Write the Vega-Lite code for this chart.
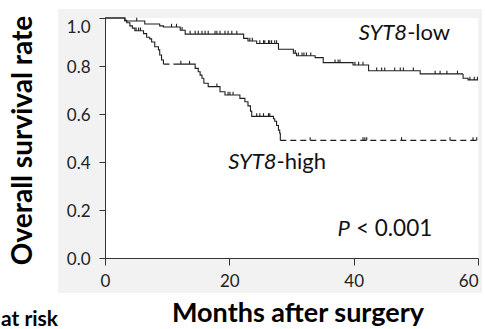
{
  "$schema": "https://vega.github.io/schema/vega-lite/v6.json",
  "width": 373,
  "height": 240,
  "autosize": {"type": "none"},
  "padding": {"left": 105, "top": 18, "right": 7, "bottom": 71},
  "background": "#ffffff",
  "config": {"view": {"stroke": null}},
  "datasets": {
    "km": [
      {"seg": "low", "trace": "observed", "month": 0, "surv": 1.0},
      {"seg": "low", "trace": "observed", "month": 3.2, "surv": 0.9875},
      {"seg": "low", "trace": "observed", "month": 6.4, "surv": 0.975},
      {"seg": "low", "trace": "observed", "month": 8.8, "surv": 0.967},
      {"seg": "low", "trace": "observed", "month": 9.4, "surv": 0.9625},
      {"seg": "low", "trace": "observed", "month": 12.1, "surv": 0.949},
      {"seg": "low", "trace": "observed", "month": 12.9, "surv": 0.933},
      {"seg": "low", "trace": "observed", "month": 22.3, "surv": 0.915},
      {"seg": "low", "trace": "observed", "month": 23.0, "surv": 0.904},
      {"seg": "low", "trace": "observed", "month": 24.4, "surv": 0.894},
      {"seg": "low", "trace": "observed", "month": 27.9, "surv": 0.87},
      {"seg": "low", "trace": "observed", "month": 30.3, "surv": 0.853},
      {"seg": "low", "trace": "observed", "month": 30.8, "surv": 0.843},
      {"seg": "low", "trace": "observed", "month": 33.8, "surv": 0.835},
      {"seg": "low", "trace": "observed", "month": 35.1, "surv": 0.814},
      {"seg": "low", "trace": "observed", "month": 39.9, "surv": 0.804},
      {"seg": "low", "trace": "observed", "month": 42.4, "surv": 0.78},
      {"seg": "low", "trace": "observed", "month": 50.7, "surv": 0.767},
      {"seg": "low", "trace": "observed", "month": 57.6, "surv": 0.749},
      {"seg": "low", "trace": "observed", "month": 58.4, "surv": 0.742},
      {"seg": "low", "trace": "observed", "month": 60, "surv": 0.742},
      {"seg": "high1", "trace": "observed", "month": 0, "surv": 1.0},
      {"seg": "high1", "trace": "observed", "month": 3.2, "surv": 0.99},
      {"seg": "high1", "trace": "observed", "month": 3.5, "surv": 0.98},
      {"seg": "high1", "trace": "observed", "month": 4.0, "surv": 0.967},
      {"seg": "high1", "trace": "observed", "month": 4.4, "surv": 0.958},
      {"seg": "high1", "trace": "observed", "month": 4.8, "surv": 0.947},
      {"seg": "high1", "trace": "observed", "month": 6.2, "surv": 0.935},
      {"seg": "high1", "trace": "observed", "month": 6.7, "surv": 0.92},
      {"seg": "high1", "trace": "observed", "month": 7.2, "surv": 0.913},
      {"seg": "high1", "trace": "observed", "month": 7.5, "surv": 0.9},
      {"seg": "high1", "trace": "observed", "month": 8.0, "surv": 0.88},
      {"seg": "high1", "trace": "observed", "month": 8.6, "surv": 0.867},
      {"seg": "high1", "trace": "observed", "month": 8.8, "surv": 0.846},
      {"seg": "high1", "trace": "observed", "month": 9.1, "surv": 0.825},
      {"seg": "high1", "trace": "observed", "month": 9.4, "surv": 0.808},
      {"seg": "high2", "trace": "extended", "month": 9.4, "surv": 0.808},
      {"seg": "high2", "trace": "extended", "month": 11.1, "surv": 0.808},
      {"seg": "high3", "trace": "observed", "month": 11.1, "surv": 0.808},
      {"seg": "high3", "trace": "observed", "month": 14.5, "surv": 0.79},
      {"seg": "high3", "trace": "observed", "month": 15.0, "surv": 0.776},
      {"seg": "high3", "trace": "observed", "month": 15.3, "surv": 0.762},
      {"seg": "high3", "trace": "observed", "month": 15.6, "surv": 0.749},
      {"seg": "high3", "trace": "observed", "month": 15.9, "surv": 0.728},
      {"seg": "high3", "trace": "observed", "month": 16.6, "surv": 0.714},
      {"seg": "high3", "trace": "observed", "month": 18.5, "surv": 0.693},
      {"seg": "high3", "trace": "observed", "month": 19.3, "surv": 0.679},
      {"seg": "high3", "trace": "observed", "month": 21.7, "surv": 0.665},
      {"seg": "high3", "trace": "observed", "month": 22.5, "surv": 0.651},
      {"seg": "high3", "trace": "observed", "month": 23.0, "surv": 0.634},
      {"seg": "high3", "trace": "observed", "month": 23.4, "surv": 0.612},
      {"seg": "high3", "trace": "observed", "month": 23.6, "surv": 0.59},
      {"seg": "high3", "trace": "observed", "month": 27.1, "surv": 0.58},
      {"seg": "high3", "trace": "observed", "month": 27.3, "surv": 0.57},
      {"seg": "high3", "trace": "observed", "month": 27.6, "surv": 0.552},
      {"seg": "high3", "trace": "observed", "month": 27.9, "surv": 0.533},
      {"seg": "high3", "trace": "observed", "month": 28.1, "surv": 0.52},
      {"seg": "high3", "trace": "observed", "month": 28.2, "surv": 0.49},
      {"seg": "high4", "trace": "extended", "month": 28.2, "surv": 0.49},
      {"seg": "high4", "trace": "extended", "month": 60, "surv": 0.49}
    ],
    "censor": [
      {"group": "low", "month": 5.1, "surv": 0.9875},
      {"group": "low", "month": 10.7, "surv": 0.9625},
      {"group": "low", "month": 11.5, "surv": 0.9625},
      {"group": "low", "month": 12.4, "surv": 0.949},
      {"group": "low", "month": 13.7, "surv": 0.933},
      {"group": "low", "month": 14.5, "surv": 0.933},
      {"group": "low", "month": 15.0, "surv": 0.933},
      {"group": "low", "month": 15.6, "surv": 0.933},
      {"group": "low", "month": 16.1, "surv": 0.933},
      {"group": "low", "month": 16.6, "surv": 0.933},
      {"group": "low", "month": 17.7, "surv": 0.933},
      {"group": "low", "month": 18.0, "surv": 0.933},
      {"group": "low", "month": 18.5, "surv": 0.933},
      {"group": "low", "month": 19.3, "surv": 0.933},
      {"group": "low", "month": 19.8, "surv": 0.933},
      {"group": "low", "month": 20.4, "surv": 0.933},
      {"group": "low", "month": 21.2, "surv": 0.933},
      {"group": "low", "month": 23.3, "surv": 0.904},
      {"group": "low", "month": 23.7, "surv": 0.904},
      {"group": "low", "month": 24.9, "surv": 0.894},
      {"group": "low", "month": 25.5, "surv": 0.894},
      {"group": "low", "month": 25.7, "surv": 0.894},
      {"group": "low", "month": 26.3, "surv": 0.894},
      {"group": "low", "month": 26.5, "surv": 0.894},
      {"group": "low", "month": 26.8, "surv": 0.894},
      {"group": "low", "month": 27.3, "surv": 0.894},
      {"group": "low", "month": 27.6, "surv": 0.894},
      {"group": "low", "month": 30.6, "surv": 0.853},
      {"group": "low", "month": 31.1, "surv": 0.843},
      {"group": "low", "month": 31.7, "surv": 0.843},
      {"group": "low", "month": 32.0, "surv": 0.843},
      {"group": "low", "month": 32.4, "surv": 0.843},
      {"group": "low", "month": 33.1, "surv": 0.843},
      {"group": "low", "month": 37.0, "surv": 0.814},
      {"group": "low", "month": 37.5, "surv": 0.814},
      {"group": "low", "month": 37.8, "surv": 0.814},
      {"group": "low", "month": 40.2, "surv": 0.804},
      {"group": "low", "month": 40.8, "surv": 0.804},
      {"group": "low", "month": 41.5, "surv": 0.804},
      {"group": "low", "month": 43.7, "surv": 0.78},
      {"group": "low", "month": 44.5, "surv": 0.78},
      {"group": "low", "month": 45.0, "surv": 0.78},
      {"group": "low", "month": 46.6, "surv": 0.78},
      {"group": "low", "month": 47.5, "surv": 0.78},
      {"group": "low", "month": 48.0, "surv": 0.78},
      {"group": "low", "month": 49.6, "surv": 0.78},
      {"group": "low", "month": 53.1, "surv": 0.767},
      {"group": "low", "month": 53.9, "surv": 0.767},
      {"group": "low", "month": 55.0, "surv": 0.767},
      {"group": "low", "month": 56.7, "surv": 0.767},
      {"group": "low", "month": 58.7, "surv": 0.742},
      {"group": "low", "month": 59.4, "surv": 0.742},
      {"group": "low", "month": 59.9, "surv": 0.742},
      {"group": "high", "month": 5.0, "surv": 0.947},
      {"group": "high", "month": 5.4, "surv": 0.947},
      {"group": "high", "month": 5.7, "surv": 0.947},
      {"group": "high", "month": 12.2, "surv": 0.808},
      {"group": "high", "month": 13.6, "surv": 0.808},
      {"group": "high", "month": 18.0, "surv": 0.714},
      {"group": "high", "month": 19.8, "surv": 0.679},
      {"group": "high", "month": 20.1, "surv": 0.679},
      {"group": "high", "month": 20.6, "surv": 0.679},
      {"group": "high", "month": 24.4, "surv": 0.59},
      {"group": "high", "month": 24.9, "surv": 0.59},
      {"group": "high", "month": 25.5, "surv": 0.59},
      {"group": "high", "month": 26.3, "surv": 0.59},
      {"group": "high", "month": 26.5, "surv": 0.59},
      {"group": "high", "month": 33.0, "surv": 0.49},
      {"group": "high", "month": 41.5, "surv": 0.49},
      {"group": "high", "month": 41.8, "surv": 0.49},
      {"group": "high", "month": 42.1, "surv": 0.49},
      {"group": "high", "month": 47.7, "surv": 0.49},
      {"group": "high", "month": 55.5, "surv": 0.49},
      {"group": "high", "month": 59.2, "surv": 0.49},
      {"group": "high", "month": 59.8, "surv": 0.49}
    ]
  },
  "layer": [
    {
      "data": {"values": [{}]},
      "mark": {"type": "rect", "fill": "#f2f2f2"},
      "encoding": {
        "x": {"datum": -7.56, "type": "quantitative", "scale": {"domain": [0, 60], "nice": false, "zero": false}},
        "x2": {"datum": 60.64},
        "y": {"datum": 1.0375, "type": "quantitative", "scale": {"domain": [0, 1], "nice": false}},
        "y2": {"datum": -0.146}
      }
    },
    {
      "data": {"values": [{}]},
      "mark": {"type": "rect", "fill": "#ffffff"},
      "encoding": {
        "x": {"datum": 0, "type": "quantitative", "scale": {"domain": [0, 60], "nice": false, "zero": false}},
        "x2": {"datum": 60},
        "y": {"datum": 1, "type": "quantitative", "scale": {"domain": [0, 1], "nice": false}},
        "y2": {"datum": 0}
      }
    },
    {
      "data": {"name": "km"},
      "mark": {"type": "line", "interpolate": "step-after", "color": "#1e1e1e", "strokeWidth": 1.1},
      "encoding": {
        "x": {
          "field": "month", "type": "quantitative",
          "scale": {"domain": [0, 60], "nice": false, "zero": false},
          "axis": {
            "values": [0, 20, 40, 60], "format": "d", "grid": false, "zindex": 1,
            "title": "Months after surgery", "titleFont": "Lato", "titleFontSize": 27, "titleFontWeight": "bold", "titleColor": "#000000",
            "titleX": 192.5, "titleY": 63.5, "titleBaseline": "alphabetic", "titleAlign": "center",
            "labelFont": "Lato", "labelFontSize": 17, "labelColor": "#222222", "labelPadding": 8, "labelFlush": false,
            "labelAlign": {"condition": {"test": "datum.value == 60", "value": "right"}, "value": "center"},
            "tickSize": 7, "tickColor": "#333333", "domainColor": "#333333"
          }
        },
        "y": {
          "field": "surv", "type": "quantitative",
          "scale": {"domain": [0, 1], "nice": false},
          "axis": {
            "values": [0, 0.1, 0.2, 0.3, 0.4, 0.5, 0.6, 0.7, 0.8, 0.9, 1],
            "labelExpr": "round(datum.value*10) % 2 == 0 ? format(datum.value, '.1f') : ''",
            "grid": false, "zindex": 1, "labelOverlap": false,
            "title": "Overall survival rate", "titleFont": "Lato", "titleFontSize": 28, "titleFontWeight": "bold", "titleColor": "#000000",
            "titleX": -73.5, "titleY": 122, "titleAngle": 270, "titleBaseline": "alphabetic", "titleAlign": "center",
            "labelFont": "Lato", "labelFontSize": 17, "labelColor": "#222222", "labelPadding": 9,
            "labelOffset": {"condition": {"test": "datum.value == 1", "value": 9}, "value": 1},
            "tickSize": {"condition": {"test": "round(datum.value*10) % 2 == 0", "value": 6}, "value": 4},
            "tickColor": "#333333", "domainColor": "#333333"
          }
        },
        "detail": {"field": "seg", "type": "nominal"},
        "strokeDash": {"field": "trace", "type": "nominal", "scale": {"domain": ["observed", "extended"], "range": [[1, 0], [6, 4]]}, "legend": null}
      }
    },
    {
      "data": {"name": "censor"},
      "mark": {"type": "point", "shape": "M0,0L0,-1", "size": 42, "filled": false, "color": "#1e1e1e", "strokeWidth": 1.1, "opacity": 1},
      "encoding": {
        "x": {"field": "month", "type": "quantitative", "scale": {"domain": [0, 60], "nice": false, "zero": false}},
        "y": {"field": "surv", "type": "quantitative", "scale": {"domain": [0, 1], "nice": false}}
      }
    },
    {
      "data": {"values": [{}]},
      "mark": {"type": "text", "text": "SYT8", "font": "Lato", "fontStyle": "italic", "fontSize": 22, "align": "right", "baseline": "alphabetic", "color": "#111111"},
      "encoding": {
        "x": {"datum": 48.6, "type": "quantitative", "scale": {"domain": [0, 60], "nice": false, "zero": false}},
        "y": {"datum": 0.908, "type": "quantitative", "scale": {"domain": [0, 1], "nice": false}}
      }
    },
    {
      "data": {"values": [{}]},
      "mark": {"type": "text", "text": "-low", "font": "Lato", "fontSize": 22, "align": "left", "baseline": "alphabetic", "color": "#111111"},
      "encoding": {
        "x": {"datum": 48.6, "type": "quantitative", "scale": {"domain": [0, 60], "nice": false, "zero": false}},
        "y": {"datum": 0.908, "type": "quantitative", "scale": {"domain": [0, 1], "nice": false}}
      }
    },
    {
      "data": {"values": [{}]},
      "mark": {"type": "text", "text": "SYT8", "font": "Lato", "fontStyle": "italic", "fontSize": 22, "align": "right", "baseline": "alphabetic", "color": "#111111"},
      "encoding": {
        "x": {"datum": 27.6, "type": "quantitative", "scale": {"domain": [0, 60], "nice": false, "zero": false}},
        "y": {"datum": 0.371, "type": "quantitative", "scale": {"domain": [0, 1], "nice": false}}
      }
    },
    {
      "data": {"values": [{}]},
      "mark": {"type": "text", "text": "-high", "font": "Lato", "fontSize": 22, "align": "left", "baseline": "alphabetic", "color": "#111111"},
      "encoding": {
        "x": {"datum": 27.6, "type": "quantitative", "scale": {"domain": [0, 60], "nice": false, "zero": false}},
        "y": {"datum": 0.371, "type": "quantitative", "scale": {"domain": [0, 1], "nice": false}}
      }
    },
    {
      "data": {"values": [{}]},
      "mark": {"type": "text", "text": "P", "font": "Lato", "fontStyle": "italic", "fontSize": 22, "align": "right", "baseline": "alphabetic", "color": "#111111"},
      "encoding": {
        "x": {"datum": 39.4, "type": "quantitative", "scale": {"domain": [0, 60], "nice": false, "zero": false}},
        "y": {"datum": 0.092, "type": "quantitative", "scale": {"domain": [0, 1], "nice": false}}
      }
    },
    {
      "data": {"values": [{}]},
      "mark": {"type": "text", "text": "< 0.001", "font": "Lato", "fontSize": 22.5, "align": "left", "baseline": "alphabetic", "dx": 6, "color": "#111111"},
      "encoding": {
        "x": {"datum": 39.4, "type": "quantitative", "scale": {"domain": [0, 60], "nice": false, "zero": false}},
        "y": {"datum": 0.092, "type": "quantitative", "scale": {"domain": [0, 1], "nice": false}}
      }
    },
    {
      "data": {"values": [{}]},
      "mark": {"type": "text", "text": "at risk", "font": "Lato", "fontWeight": "bold", "fontSize": 21, "align": "left", "baseline": "alphabetic", "color": "#000000"},
      "encoding": {
        "x": {"datum": -16.73, "type": "quantitative", "scale": {"domain": [0, 60], "nice": false, "zero": false}},
        "y": {"datum": -0.2833, "type": "quantitative", "scale": {"domain": [0, 1], "nice": false}}
      }
    }
  ]
}
